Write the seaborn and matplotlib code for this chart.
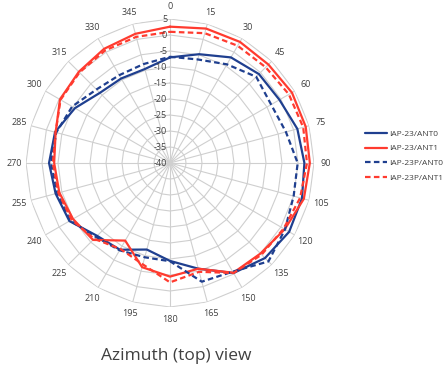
import numpy as np
import pandas as pd
import matplotlib
matplotlib.use('Agg')
import matplotlib.pyplot as plt
import matplotlib.transforms as mtransforms
from matplotlib.lines import Line2D
import seaborn as sns

# azimuth angles (deg) and measured gain (dB) per antenna
angles = list(range(0, 360, 15))
iap23_ant0 = [-7.0, -4.8, -1.9, -0.7, -0.5, 1.2, 2.0, 2.7, 3.0, 2.0, -0.3, -5.8,
              -9.4, -12.0, -8.7, -7.8, -3.7, -3.0, -2.2, -2.8, -5.7, -9.0, -9.5, -9.6]
iap23_ant1 = [2.6, 3.5, 3.7, 3.5, 4.0, 3.9, 3.7, 3.3, 1.4, 0.0, -0.4, -5.8,
              -4.5, -6.3, -12.0, -6.0, -5.0, -4.2, -3.8, -3.0, -0.3, 0.3, 1.2, 1.8]
iap23p_ant0 = [-6.8, -6.5, -4.4, -1.9, -3.5, -2.5, -0.1, 0.0, 1.5, 3.5, -0.8, -1.6,
               -9.3, -9.5, -8.5, -7.3, -4.0, -3.5, -2.8, -3.2, -4.7, -7.5, -8.3, -8.0]
iap23p_ant1 = [1.0, 2.0, 2.3, 2.3, 2.9, 3.1, 2.8, 2.1, 1.0, 0.5, -0.3, -4.8,
               -2.7, -7.2, -9.0, -6.5, -4.5, -3.9, -3.4, -3.0, -0.5, 0.0, 0.6, 0.8]
series_names = ['IAP-23/ANT0', 'IAP-23/ANT1', 'IAP-23P/ANT0', 'IAP-23P/ANT1']
r_ticks = list(range(-40, 10, 5))

blue = '#1f3f8f'
red = '#ff3b2f'
palette = {series_names[0]: blue, series_names[1]: red,
           series_names[2]: blue, series_names[3]: red}
dashes = {series_names[0]: '', series_names[1]: '',
          series_names[2]: (2.5, 1.5), series_names[3]: (2.5, 1.5)}

sns.set_style('white')
plt.rcParams['font.family'] = ['Open Sans', 'DejaVu Sans']

# long table, each loop closed back to 0 deg
frames = []
for name, vals in zip(series_names, [iap23_ant0, iap23_ant1, iap23p_ant0, iap23p_ant1]):
    frames.append(pd.DataFrame({
        'theta': np.deg2rad(angles + [360]),
        'value': vals + [vals[0]],
        'series': name,
    }))
df = pd.concat(frames, ignore_index=True)

fig = plt.figure(figsize=(4.44, 3.72), dpi=100)
ax = fig.add_axes([26 / 444, 65 / 372, 288 / 444, 288 / 372], projection='polar')
ax.set_theta_zero_location('N')
ax.set_theta_direction(-1)

# polygon grid like an Excel radar chart
grid_th = np.deg2rad(angles + [360])
for lev in r_ticks[1:]:
    ax.plot(grid_th, [lev] * len(grid_th), color='#cfcfcf', lw=0.8, zorder=1)
for a in angles:
    ax.plot([np.deg2rad(a)] * 2, [r_ticks[0], r_ticks[-1]], color='#cfcfcf', lw=0.8, zorder=1)

sns.lineplot(data=df, x='theta', y='value', hue='series', style='series',
             palette=palette, dashes=dashes, sort=False, estimator=None,
             linewidth=1.6, legend=False, ax=ax, zorder=3)

ax.set_ylim(r_ticks[0], r_ticks[-1])
ax.grid(False)
ax.set_xticks([])
ax.set_yticks([])
ax.set_xlabel('')
ax.set_ylabel('')
ax.spines['polar'].set_visible(False)
ax.patch.set_alpha(0)

# angle labels round the outside
for a in angles:
    ax.text(np.deg2rad(a), 8.8, str(a), ha='center', va='center',
            fontsize=6.5, color='#404040')

# radial labels left of the 0 deg spoke
shift = mtransforms.ScaledTranslation(-2 / 72, 0, fig.dpi_scale_trans)
for lev in r_ticks:
    ax.text(0, lev, str(lev), transform=ax.transData + shift,
            ha='right', va='center', fontsize=6.5, color='#404040')

handles = [Line2D([], [], color=palette[n], lw=1.6,
                  linestyle='-' if dashes[n] == '' else (0, dashes[n]))
           for n in series_names]
fig.legend(handles, series_names, loc='center left', bbox_to_anchor=(365 / 444, 1 - 156 / 372),
           frameon=False, fontsize=6, handlelength=2.6, handletextpad=0.3,
           labelspacing=0.85, borderpad=0, borderaxespad=0, labelcolor='#404040')

fig.text(176 / 444, 1 - 356 / 372, 'Azimuth (top) view', ha='center', va='center',
         fontsize=12.5, color='#404040')

fig.savefig('out.png', dpi=100)
